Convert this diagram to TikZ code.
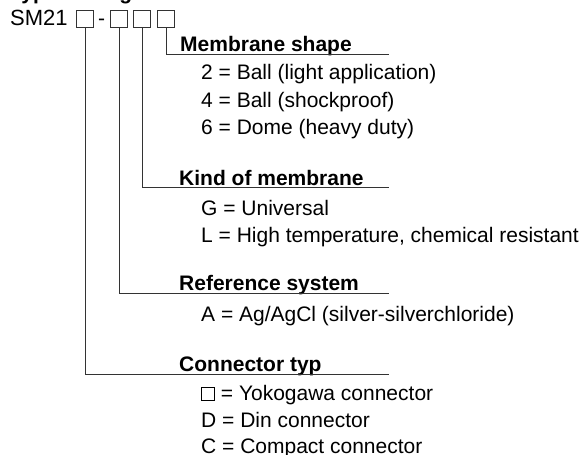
\documentclass[tikz,border=0pt]{standalone}
\usepackage{fontspec}
\setmainfont{Liberation Sans}
\usetikzlibrary{positioning}
\newcommand{\emptysq}{{\setlength{\fboxsep}{0pt}\setlength{\fboxrule}{0.7pt}\fbox{\rule{0pt}{12.5pt}\rule{12.5pt}{0pt}}}}
\begin{document}
\begin{tikzpicture}[x=1pt, y=-1pt,
    digit/.style={draw=black!80, line width=0.8pt, minimum size=17pt, inner sep=0pt},
    head/.style={anchor=base west, inner sep=0pt, font=\fontsize{21}{24}\selectfont\bfseries},
    item/.style={anchor=base west, inner sep=0pt, font=\fontsize{21}{24}\selectfont},
    lead/.style={draw=black!80, line width=0.8pt},
]
\useasboundingbox (0,0) rectangle (579,455);

\node[head] (title) at (10,-1) {Type coding};
\node[item, font=\fontsize{22}{24}\selectfont] (code) at (10,26) {SM21};
\node[digit] (b1) at (85,18.5) {};
\node[item] (dash) at (98,26) {-};
\node[digit] (b2) at (119,18.5) {};
\node[digit] (b3) at (142,18.5) {};
\node[digit] (b4) at (166,18.5) {};

% membrane shape
\node[head] (shape) at (180,51) {Membrane shape};
\node[item] (shape2) at (201,79) {2 = Ball (light application)};
\node[item] (shape4) at (201,107) {4 = Ball (shockproof)};
\node[item] (shape6) at (201,134) {6 = Dome (heavy duty)};

% kind of membrane
\node[head] (kind) at (179,185) {Kind of membrane};
\node[item] (kindG) at (201,215) {G = Universal};
\node[item] (kindL) at (201,242) {L = High temperature, chemical resistant};

% reference system
\node[head] (ref) at (179,290) {Reference system};
\node[item] (refA) at (201,321) {A = Ag/AgCl (silver-silverchloride)};

% connector typ
\node[head] (conn) at (179,371) {Connector typ};
\node[item] (connY) at (201,400) {\emptysq{} = Yokogawa connector};
\node[item] (connD) at (201,427) {D = Din connector};
\node[item] (connC) at (201,453) {C = Compact connector};

\coordinate (shapeEnd) at (389,54);
\coordinate (kindEnd) at (389,187);
\coordinate (refEnd) at (389,293);
\coordinate (connEnd) at (389,374);

\draw[lead] (b4.south) |- (shapeEnd);
\draw[lead] (b3.south) |- (kindEnd);
\draw[lead] (b2.south) |- (refEnd);
\draw[lead] (b1.south) |- (connEnd);
\end{tikzpicture}
\end{document}
